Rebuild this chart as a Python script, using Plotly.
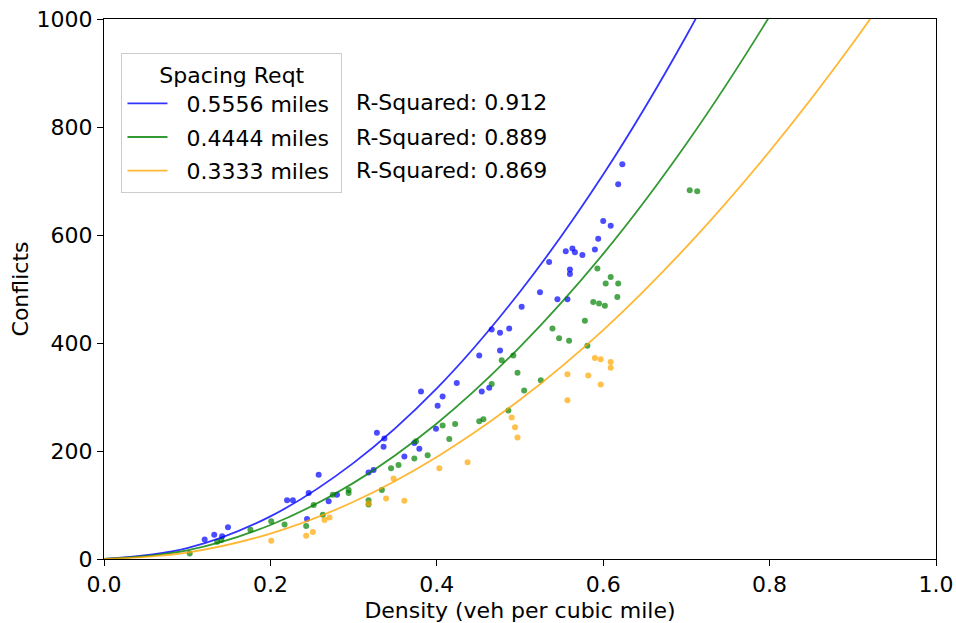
import plotly.graph_objects as go

# ---- data ----
blue_x = [0.121, 0.1325, 0.142, 0.149, 0.220, 0.227, 0.246, 0.258, 0.270, 0.244, 0.280, 0.318, 0.324,
          0.328, 0.337, 0.336, 0.361, 0.379, 0.373, 0.399, 0.401, 0.407, 0.381, 0.424, 0.451, 0.466,
          0.476, 0.487, 0.476, 0.502, 0.524, 0.535, 0.545, 0.454, 0.463, 0.623, 0.618, 0.600, 0.609,
          0.594, 0.590, 0.555, 0.563, 0.566, 0.575, 0.560, 0.560, 0.557]
blue_y = [36, 45, 42, 59, 109, 109, 122, 156, 107, 74, 119, 160, 165,
          234, 223, 208, 190, 204, 215, 241, 284, 301, 310, 326, 377, 425,
          419, 427, 386, 467, 494, 550, 481, 310, 317, 731, 694, 626, 617,
          593, 573, 570, 575, 568, 563, 536, 528, 481]

green_x = [0.103, 0.136, 0.141, 0.176, 0.201, 0.217, 0.243, 0.252, 0.263, 0.275, 0.294, 0.294, 0.318,
           0.318, 0.334, 0.345, 0.354, 0.373, 0.375, 0.389, 0.407, 0.415, 0.422, 0.478, 0.492, 0.466,
           0.497, 0.505, 0.525, 0.539, 0.547, 0.451, 0.456, 0.486, 0.593, 0.609, 0.603, 0.618, 0.617,
           0.588, 0.595, 0.602, 0.578, 0.559, 0.581, 0.704, 0.713]
green_y = [10, 32, 35, 54, 70, 64, 61, 100, 82, 119, 128, 122, 109,
           101, 128, 168, 174, 186, 218, 192, 247, 222, 250, 368, 377, 324,
           345, 312, 331, 427, 409, 255, 259, 275, 538, 522, 510, 510, 485,
           476, 473, 469, 441, 404, 395, 683, 681]

orange_x = [0.201, 0.243, 0.251, 0.265, 0.271, 0.318, 0.339, 0.348, 0.361, 0.403, 0.437, 0.490, 0.494,
            0.497, 0.590, 0.597, 0.609, 0.609, 0.557, 0.582, 0.597, 0.557]
orange_y = [34, 43, 50, 72, 77, 103, 112, 149, 108, 168, 179, 262, 244,
            225, 372, 370, 365, 354, 342, 340, 323, 294]

# fitted curves
curve_x = [0.0, 0.1, 0.2, 0.3, 0.4, 0.5, 0.6, 0.7, 0.8, 0.9, 1.0]
blue_curve = [0, 20, 79, 178, 316, 495, 712, 969, 1266, None, None]
green_curve = [0, 16, 63, 141, 251, 393, 565, 769, 1005, 1272, None]
orange_curve = [0, 12, 47, 106, 189, 295, 424, 578, 755, 955, 1179]

series_names = ["0.5556 miles", "0.4444 miles", "0.3333 miles"]
r_squared = ["R-Squared: 0.912", "R-Squared: 0.889", "R-Squared: 0.869"]

x_ticks = [0.0, 0.2, 0.4, 0.6, 0.8, 1.0]
x_tick_text = ["0.0", "0.2", "0.4", "0.6", "0.8", "1.0"]
y_ticks = [0, 200, 400, 600, 800, 1000]

FONT = "DejaVu Sans"
FS = 22

fig = go.Figure()

pts = [(blue_x, blue_y, "rgba(0,0,255,0.7)"),
       (green_x, green_y, "rgba(0,128,0,0.7)"),
       (orange_x, orange_y, "rgba(255,165,0,0.7)")]
for xs, ys, c in pts:
    fig.add_trace(go.Scatter(x=xs, y=ys, mode="markers", showlegend=False,
                             marker=dict(color=c, size=6, line=dict(width=0)),
                             hoverinfo="x+y"))

curves = [(blue_curve, "rgba(0,0,255,0.8)"),
          (green_curve, "rgba(0,128,0,0.8)"),
          (orange_curve, "rgba(255,165,0,0.8)")]
for i, (cy, c) in enumerate(curves):
    xs = [x for x, y in zip(curve_x, cy) if y is not None]
    ys = [y for y in cy if y is not None]
    fig.add_trace(go.Scatter(x=xs, y=ys, mode="lines",
                             name="\u00a0\u00a0" + series_names[i] + "\u00a0",
                             legendgroup="g%d" % i,
                             line=dict(color=c, width=1.8, shape="spline", smoothing=1.0)))

for i, txt in enumerate(r_squared):
    fig.add_annotation(x=0.301, y=[0.846, 0.781, 0.719][i], xref="paper", yref="paper",
                       text=txt, showarrow=False, xanchor="left", yanchor="middle",
                       font=dict(family=FONT, size=FS, color="black"))

axis_common = dict(showline=True, linecolor="black", linewidth=1, mirror=True,
                   ticks="outside", ticklen=6, tickcolor="black", showgrid=False,
                   zeroline=False,
                   tickfont=dict(family=FONT, size=FS, color="black"))

fig.update_layout(
    width=956, height=623,
    margin=dict(l=104, r=20, t=19, b=64),
    paper_bgcolor="white", plot_bgcolor="white",
    font=dict(family=FONT, size=FS, color="black"),
    xaxis=dict(range=[0, 1], tickvals=x_ticks, ticktext=x_tick_text, automargin=False,
               title=dict(text="Density (veh per cubic mile)", font=dict(family=FONT, size=FS)),
               **axis_common),
    yaxis=dict(range=[0, 1000], tickvals=y_ticks, automargin="left",
               title=dict(text="Conflicts", font=dict(family=FONT, size=FS), standoff=1),
               **axis_common),
    legend=dict(x=0.021, y=0.937, xanchor="left", yanchor="top",
                bgcolor="white", bordercolor="#cccccc", borderwidth=1,
                title=dict(text="Spacing Reqt", side="top center", font=dict(family=FONT, size=FS)),
                font=dict(family=FONT, size=FS, color="black"),
                tracegroupgap=2, itemwidth=40),
)

fig.write_html("out.html")
